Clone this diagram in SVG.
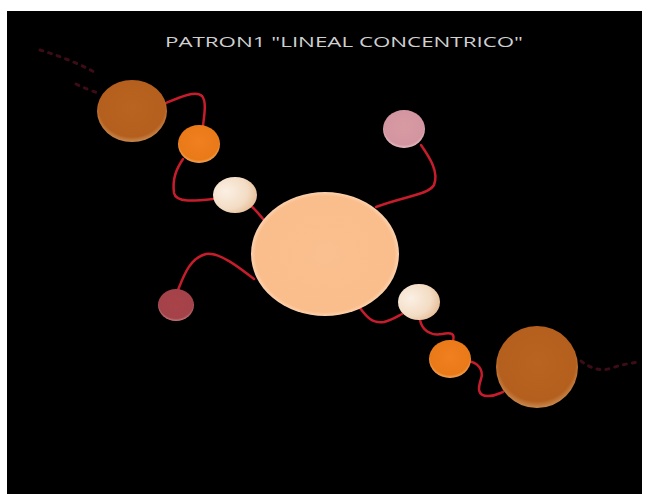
<svg xmlns="http://www.w3.org/2000/svg" width="653" height="494" viewBox="0 0 653 494">
<style>
.link{fill:none;stroke:#c61c2c;stroke-width:2.5;stroke-linecap:round;stroke-linejoin:round}
.tail{fill:none;stroke:#6e1828;stroke-width:3;stroke-dasharray:3 6;stroke-linecap:round;opacity:0.55}
.title{font-family:"Open Sans","Liberation Sans",sans-serif;font-size:15px;fill:#d0d0d0;font-weight:normal}
</style>
<defs>
<radialGradient id="gBrown" cx="50%" cy="45%" r="55%"><stop offset="0" stop-color="#ba6421"/><stop offset="0.85" stop-color="#b45f1d"/><stop offset="1" stop-color="#c98a52"/></radialGradient>
<radialGradient id="gOrange" cx="50%" cy="45%" r="55%"><stop offset="0" stop-color="#f08020"/><stop offset="0.85" stop-color="#ea7a18"/><stop offset="1" stop-color="#f5a860"/></radialGradient>
<radialGradient id="gCream" cx="30%" cy="40%" r="70%"><stop offset="0" stop-color="#fbf0e4"/><stop offset="0.7" stop-color="#f3dcc4"/><stop offset="1" stop-color="#e8c29e"/></radialGradient>
<radialGradient id="gPink" cx="50%" cy="45%" r="55%"><stop offset="0" stop-color="#d89aa2"/><stop offset="0.85" stop-color="#d395a0"/><stop offset="1" stop-color="#e8c0c4"/></radialGradient>
<radialGradient id="gPeach" cx="50%" cy="50%" r="52%"><stop offset="0" stop-color="#fbc08f"/><stop offset="0.9" stop-color="#fabd8c"/><stop offset="1" stop-color="#fde0c4"/></radialGradient>
<radialGradient id="gRed" cx="50%" cy="45%" r="55%"><stop offset="0" stop-color="#a84348"/><stop offset="0.85" stop-color="#a4424a"/><stop offset="1" stop-color="#c87c7c"/></radialGradient>
</defs>
<rect x="0" y="0" width="653" height="494" fill="#ffffff"/>
<rect x="7" y="11" width="635" height="483" fill="#000000"/>
<text class="title" x="165" y="47" textLength="358" lengthAdjust="spacingAndGlyphs">PATRON1 "LINEAL CONCENTRICO"</text>
<g id="connectors">
<path class="tail" d="M40,50 C60,56 80,64 98,74"/>
<path class="tail" d="M76,84 C84,88 92,91 98,93"/>
<path class="link" d="M166,103 C180,97 196,90 202,96 C207,102 204,116 203,126"/>
<path class="link" d="M183,159 C177,168 172,178 174,193 C176,203 195,201 213,199"/>
<path class="link" d="M251,206 C256,210 259,214 263,219"/>
<path class="link" d="M421,145 C430,158 439,172 434,185 C428,195 405,196 376,207"/>
<path class="link" d="M178,290 C184,275 190,258 206,254 C220,252 240,268 254,279"/>
<path class="link" d="M360,308 C366,316 372,324 384,322 C392,320 398,316 402,314"/>
<path class="link" d="M420,320 C422,330 430,336 442,334 C452,332 455,334 453,341"/>
<path class="link" d="M467,361 C478,362 484,370 481,379 C478,388 477,396 488,396 C496,396 500,393 503,392"/>
<path class="tail" d="M581,361 C590,368 600,372 612,368 C622,364 630,364 637,362"/>
</g>
<g id="brown-top-left"><ellipse cx="132" cy="111" rx="35" ry="31" fill="url(#gBrown)"/></g>
<g id="orange-top-left"><ellipse cx="199" cy="144" rx="21" ry="19" fill="url(#gOrange)"/></g>
<g id="cream-top-left"><ellipse cx="235" cy="195" rx="22" ry="18" fill="url(#gCream)"/></g>
<g id="pink-top"><ellipse cx="404" cy="129" rx="21" ry="19" fill="url(#gPink)"/></g>
<g id="center"><ellipse cx="325" cy="254" rx="74" ry="62" fill="url(#gPeach)"/></g>
<g id="red-left"><ellipse cx="176" cy="305" rx="18" ry="16" fill="url(#gRed)"/></g>
<g id="cream-bottom-right"><ellipse cx="419" cy="302" rx="21" ry="18" fill="url(#gCream)"/></g>
<g id="orange-bottom-right"><ellipse cx="450" cy="359" rx="21" ry="19" fill="url(#gOrange)"/></g>
<g id="brown-bottom-right"><ellipse cx="537" cy="367" rx="41" ry="41" fill="url(#gBrown)"/></g>
</svg>
